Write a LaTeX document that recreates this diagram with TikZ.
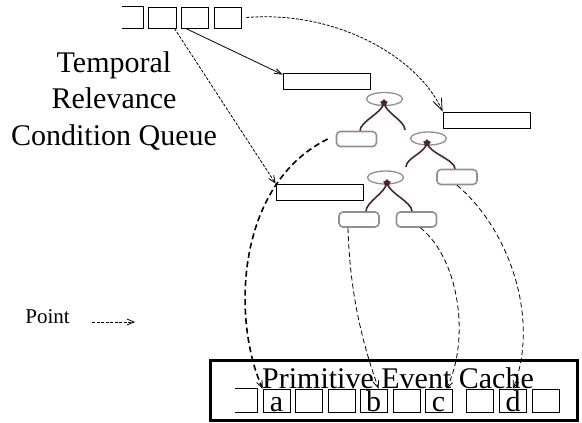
\documentclass[tikz,border=0pt]{standalone}
\usepackage{fontspec}
\setmainfont{Liberation Serif}
\usetikzlibrary{shapes.geometric,arrows.meta}
\definecolor{treebrown}{RGB}{75,38,48}
\definecolor{treegray}{RGB}{150,142,142}

\begin{document}
\begin{tikzpicture}[x=1pt, y=-1pt, line width=0.8pt,
  cell/.style={draw, minimum width=27pt, minimum height=21pt, inner sep=0pt},
  letter/.style={cell, font=\fontsize{30}{36.5}\selectfont, text height=22pt, text depth=1pt, minimum height=23pt},
  slot/.style={draw, minimum width=87pt, minimum height=16pt, inner sep=0pt},
  root/.style={ellipse, draw=treegray, line width=1.3pt, minimum width=36pt, minimum height=13pt, inner sep=0pt},
  leaf/.style={draw=treegray, line width=1.6pt, rounded corners=4pt, minimum width=40pt, minimum height=15pt, inner sep=0pt},
  knot/.style={star, star points=5, fill=treebrown, minimum size=8pt, inner sep=0pt},
  branch/.style={draw=treebrown, line width=1.6pt},
  big/.style={font=\fontsize{30}{36.5}\selectfont, inner sep=0pt},
  ptr/.style={dash pattern=on 3pt off 1.5pt, -{Straight Barb[length=7pt,width=6pt]}},
  link/.style={dash pattern=on 5pt off 3pt, -{Straight Barb[length=7pt,width=6pt]}},
  biglink/.style={line width=1.6pt, dash pattern=on 6pt off 3.5pt, -{Straight Barb[length=7pt,width=6pt,line width=0.8pt]}}]
\useasboundingbox (0,0) rectangle (582,423);

% Queue
\node[big, align=center, anchor=base] (qlabel) at (114,145) {Temporal\\Relevance\\Condition Queue};
\node[cell, draw=none, minimum width=21pt] (q0) at (132.5,17.5) {};
\draw (q0.north west) -- (q0.north east) -- (q0.south east) -- (q0.south west);
\node[cell, minimum width=28pt] (q1) at (162,17.5) {};
\node[cell] (q2) at (194.5,17.5) {};
\node[cell] (q3) at (227.5,17.5) {};

% Slots
\node[slot] (s1) at (326.5,81) {};
\node[slot] (s2) at (486.5,120) {};
\node[slot] (s3) at (319.5,192) {};

% Tree 1
\node[root] (r1) at (384.5,99) {};
\node[knot] (k1) at (384,103) {};
\node[leaf] (l1) at (356.5,139) {};
\coordinate (b1) at (405,130);
\draw[branch] (k1.center) .. controls +(-2,10) and +(0,-9) .. ([xshift=3.5pt]l1.north);
\draw[branch] (k1.center) .. controls +(2,10) and +(0,-9) .. (b1);

% Tree 2
\node[root] (r2) at (428.5,138.5) {};
\node[knot] (k2) at (427,143) {};
\node[leaf] (l2) at (457,177) {};
\coordinate (b2) at (406,167);
\draw[branch] (k2.center) .. controls +(-2,10) and +(0,-9) .. (b2);
\draw[branch] (k2.center) .. controls +(2,10) and +(0,-9) .. ([xshift=-2pt]l2.north);

% Tree 3
\node[root] (r3) at (385.5,177.5) {};
\node[knot] (k3) at (387,183) {};
\node[leaf] (l3) at (359,219.5) {};
\node[leaf] (l4) at (416.5,219.5) {};
\draw[branch] (k3.center) .. controls +(-2,10) and +(0,-9) .. ([xshift=7pt]l3.north);
\draw[branch] (k3.center) .. controls +(2,10) and +(0,-9) .. ([xshift=-4.5pt]l4.north);

% Cache
\node[draw, line width=3pt, minimum width=367pt, minimum height=60pt, inner sep=0pt] (cache) at (393.5,390) {};
\node[letter, draw=none, minimum width=22pt] (c0) at (246,400.5) {};
\draw (c0.north west) -- (c0.north east) -- (c0.south east) -- (c0.south west);
\node[letter] (c1) at (276.5,400.5) {a};
\node[letter] (c2) at (309,400.5) {};
\node[letter] (c3) at (342,400.5) {};
\node[letter] (c4) at (373.5,400.5) {b};
\node[letter] (c5) at (406.5,400.5) {};
\node[letter] (c6) at (438.5,400.5) {c};
\node[letter] (c7) at (480,400.5) {};
\node[letter] (c8) at (513,400.5) {d};
\node[letter] (c9) at (545.5,400.5) {};
\node[big, anchor=base] (title) at (398,388) {Primitive Event Cache};

% Legend
\node[font=\fontsize{21}{25}\selectfont, anchor=base west, inner sep=0pt] (point) at (25,323) {Point};
\coordinate (pointtip) at (135,322);
\draw[ptr] ([xshift=22pt,yshift=1pt]point.base east) -- (pointtip);

% Arrows
\draw[ptr] ([xshift=-2pt]q1.south east) -- (s3.north west);
\draw[-{Straight Barb[length=7pt,width=5pt]}] ([xshift=5pt]q2.south west) -- ([yshift=-2pt]s1.north west);
\draw[dash pattern=on 3pt off 1.5pt, -{Straight Barb[length=12pt,width=9pt]}] ([xshift=5pt]q3.east) .. controls (340,10) and (420,60) .. (s2.north west);
\draw[biglink] ([xshift=-8pt]l1.west) .. controls (235,185) and (232,320) .. (c1.north west);
\draw[link] ([xshift=-11pt]l3.south) .. controls (350,300) and (365,350) .. ([xshift=5pt]c4.north);
\draw[link] ([xshift=4pt]l4.south) .. controls (460,260) and (470,340) .. ([xshift=8pt]c6.north);
\draw[link] (l2.south) .. controls (510,230) and (540,320) .. (c8.north);
\end{tikzpicture}
\end{document}
